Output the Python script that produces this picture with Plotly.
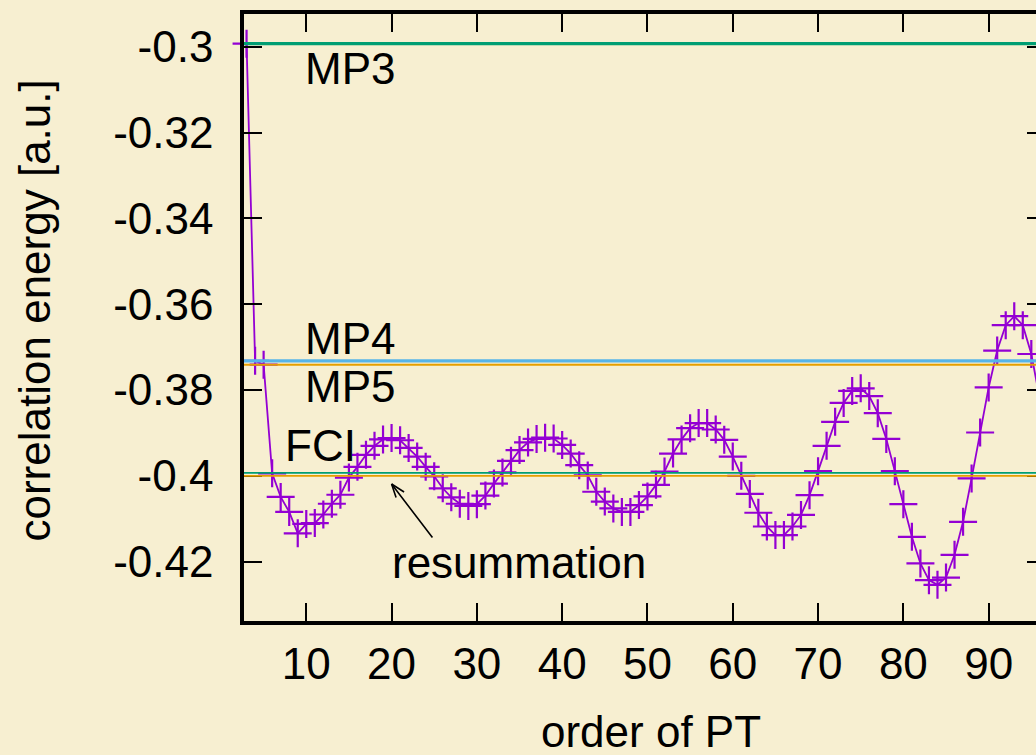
import plotly.graph_objects as go

# ---- data ----
energies = [
    -0.2993, -0.3732, -0.3741, -0.3994, -0.4049, -0.4084, -0.4134, -0.4112,   # 3-10
    -0.4110, -0.4090, -0.4065, -0.4044, -0.4004, -0.3979, -0.3951, -0.3930,   # 11-18
    -0.3915, -0.3912, -0.3917, -0.3935, -0.3955, -0.3979, -0.4001, -0.4029,   # 19-26
    -0.4050, -0.4065, -0.4070, -0.4066, -0.4046, -0.4018, -0.3992, -0.3965,   # 27-34
    -0.3940, -0.3922, -0.3914, -0.3911, -0.3913, -0.3928, -0.3948, -0.3975,   # 35-42
    -0.3999, -0.4037, -0.4060, -0.4076, -0.4084, -0.4084, -0.4068, -0.4048,   # 43-50
    -0.4021, -0.3990, -0.3948, -0.3915, -0.3889, -0.3877, -0.3877, -0.3892,   # 51-58
    -0.3916, -0.3955, -0.4000, -0.4042, -0.4086, -0.4118, -0.4138, -0.4138,   # 59-66
    -0.4118, -0.4091, -0.4045, -0.3989, -0.3930, -0.3874, -0.3830, -0.3802,   # 67-74
    -0.3796, -0.3814, -0.3854, -0.3914, -0.3989, -0.4066, -0.4142, -0.4204,   # 75-82
    -0.4243, -0.4254, -0.4237, -0.4184, -0.4107, -0.4006, -0.3899, -0.3794,   # 83-90
    -0.3708, -0.3649, -0.3628, -0.3649, -0.3716, -0.3822,                     # 91-96
]
first_order = 3
orders = list(range(first_order, first_order + len(energies)))

ref_names = ["MP3", "MP4", "MP5", "FCI", "resummation"]
ref_values = [-0.2993, -0.3732, -0.3741, -0.3993, -0.4000]
ref_colors = ["#009e73", "#56b4e9", "#e69f00", "#009e73", "#e69f00"]
ref_widths = [3.2, 3.2, 2.0, 1.6, 1.6]

x_tickvals = [10, 20, 30, 40, 50, 60, 70, 80, 90]
x_ticktext = ["10", "20", "30", "40", "50", "60", "70", "80", "90"]
y_tickvals = [-0.30, -0.32, -0.34, -0.36, -0.38, -0.40, -0.42]
y_ticktext = ["-0.3", "-0.32", "-0.34", "-0.36", "-0.38", "-0.4", "-0.42"]

BG = "#f7efd1"
FONT = "Liberation Sans, Arial, Helvetica, sans-serif"
FS = 44
PURPLE = "#9400d3"

fig = go.Figure()

fig.add_trace(go.Scatter(
    x=orders, y=energies, mode="lines+markers",
    line=dict(color=PURPLE, width=1.8),
    marker=dict(symbol="cross-thin", size=20, color=PURPLE,
                line=dict(color=PURPLE, width=2.2)),
    cliponaxis=False, showlegend=False, hoverinfo="skip",
))

# reference horizontal lines
for v, c, w in zip(ref_values, ref_colors, ref_widths):
    fig.add_shape(type="line", xref="x domain", yref="y", x0=0, x1=1, y0=v, y1=v,
                  line=dict(color=c, width=w), layer="above")

# invisible trace on right axis for mirror ticks
fig.add_trace(go.Scatter(x=[orders[0]], y=[energies[0]], yaxis="y2", mode="markers",
                         marker=dict(opacity=0), showlegend=False, hoverinfo="skip"))

# labels
label_pos = {
    "MP3": (9.65, -0.3050),
    "MP4": (9.65, -0.3681),
    "MP5": (9.65, -0.3791),
    "FCI": (7.3, -0.3930),
}
for name, (lx, ly) in label_pos.items():
    fig.add_annotation(x=lx, y=ly, xref="x", yref="y", text=name, showarrow=False,
                       xanchor="left", yanchor="middle",
                       font=dict(family=FONT, size=FS, color="black"))
fig.add_annotation(x=19.85, y=-0.4203, xref="x", yref="y", text=ref_names[4],
                   showarrow=False, xanchor="left", yanchor="middle",
                   font=dict(family=FONT, size=FS, color="black"))

# arrow: shaft + open head
head_x, head_y = 20.0, -0.4019
for ax_, ay_ in [(42, 55), (5, 15), (14, 9)]:
    fig.add_annotation(x=head_x, y=head_y, xref="x", yref="y", ax=ax_, ay=ay_,
                       axref="pixel", ayref="pixel", text="", showarrow=True,
                       arrowhead=0, arrowwidth=1.6, arrowcolor="black",
                       standoff=0, startstandoff=0)

# axis titles
fig.add_annotation(x=0.514, y=0, xref="paper", yref="paper", yshift=-110,
                   text="order of PT", showarrow=False, xanchor="center",
                   yanchor="middle", font=dict(family=FONT, size=FS, color="black"))
fig.add_annotation(x=0, y=0.5, xref="paper", yref="paper", xshift=-210, yshift=7,
                   text="correlation energy [a.u.]", textangle=-90, showarrow=False,
                   xanchor="center", yanchor="middle",
                   font=dict(family=FONT, size=FS, color="black"))

fig.update_layout(
    width=1036, height=755,
    margin=dict(l=244, r=0, t=14, b=134),
    paper_bgcolor=BG, plot_bgcolor=BG,
    font=dict(family=FONT, size=FS, color="black"),
    showlegend=False,
    xaxis=dict(range=[2.7, 95.55], tickvals=x_tickvals, ticktext=x_ticktext,
               ticks="inside", ticklen=18, tickwidth=1.6, tickcolor="black",
               showline=True, linewidth=3.5, linecolor="black", mirror="ticks",
               showgrid=False, zeroline=False, ticklabelstandoff=1,
               tickfont=dict(family=FONT, size=FS, color="black")),
    yaxis=dict(range=[-0.43382, -0.29238], tickvals=y_tickvals, ticktext=y_ticktext,
               ticks="inside", ticklen=18, tickwidth=1.6, tickcolor="black",
               showline=True, linewidth=3.5, linecolor="black", mirror=False,
               showgrid=False, zeroline=False, ticklabelstandoff=18,
               tickfont=dict(family=FONT, size=FS, color="black")),
    yaxis2=dict(range=[-0.43382, -0.29238], tickvals=y_tickvals, overlaying="y",
                side="right", anchor="x", ticks="inside", ticklen=9, tickwidth=1.6,
                tickcolor="black", showticklabels=False, showline=False,
                showgrid=False, zeroline=False),
)

fig.write_html("out.html")
